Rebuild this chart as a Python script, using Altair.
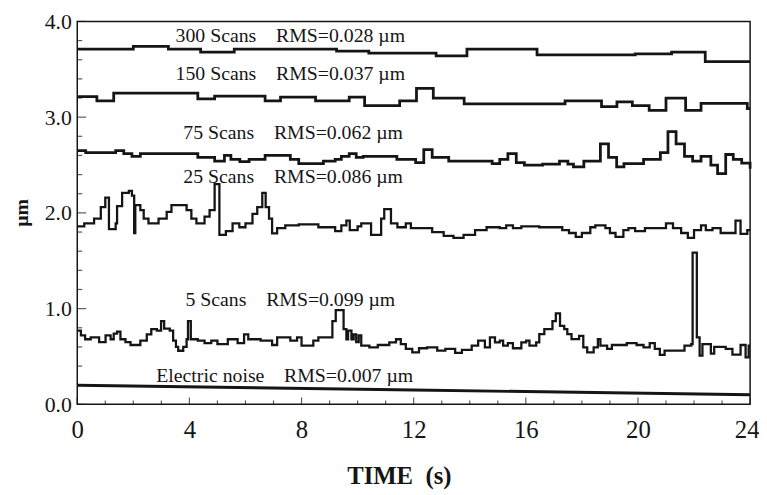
import altair as alt
import pandas as pd

INK = "#151515"
FONT = "Liberation Serif"
NB = "\u00a0"

# ---------------- data ----------------
t300 = [0, 2.0, 3.25, 4.4, 5.6, 9.25, 10.4, 12.8, 13.9, 16.4, 19.9, 21.2, 22.4, 24]
v300 = [3.71, 3.74, 3.71, 3.68, 3.71, 3.69, 3.67, 3.64, 3.71, 3.65, 3.66, 3.68, 3.58, 3.58]

t150 = [0, 0.7, 1.3, 4.3, 4.9, 6.7, 7.25, 8.5, 9.7, 10.25, 11.5, 12.1, 12.7, 13.8,
        17.4, 18.7, 19.25, 19.8, 20.4, 21.0, 21.7, 22.25, 23.9, 24]
v150 = [3.215, 3.17, 3.25, 3.19, 3.22, 3.17, 3.21, 3.17, 3.21, 3.12, 3.17, 3.30, 3.20, 3.14,
        3.17, 3.11, 3.16, 3.12, 3.07, 3.20, 3.07, 3.145, 3.09, 3.09]

t75 = [0, 0.3, 1.37, 1.66, 1.95, 2.25, 4.3, 4.9, 5.25, 5.48,
       5.8, 6.13, 6.7, 7.6, 7.9, 8.78, 9.2, 9.42, 9.7, 9.95,
       10.2, 11.4, 12.07, 12.36, 12.66, 13.25, 14.8, 15.07, 15.36, 15.66,
       15.95, 16.6, 17.2, 17.5, 17.7, 18.07, 18.66, 18.95, 19.24, 19.5,
       20.2, 20.8, 21.07, 21.36, 21.66, 21.95, 22.25, 22.6, 22.84, 23.13,
       23.4, 23.7, 24]
v75 = [2.65, 2.63, 2.65, 2.62, 2.59, 2.62, 2.58, 2.54, 2.60, 2.56,
       2.535, 2.56, 2.60, 2.56, 2.515, 2.54, 2.56, 2.59, 2.62, 2.58,
       2.59, 2.56, 2.525, 2.66, 2.58, 2.54, 2.515, 2.56, 2.62, 2.525,
       2.50, 2.51, 2.54, 2.51, 2.48, 2.54, 2.72, 2.58, 2.48, 2.515,
       2.56, 2.63, 2.85, 2.72, 2.59, 2.54, 2.59, 2.50, 2.41, 2.61,
       2.56, 2.52, 2.46]

t25 = [0, 0.25, 0.6, 0.84, 1.0, 1.13, 1.37, 1.42, 1.6, 1.84,
       1.95, 2.03, 2.07, 2.25, 2.37, 2.54, 2.9, 3.19, 3.36, 3.9,
       4.07, 4.25, 4.54, 4.72, 4.9, 5.07, 5.3, 5.54, 5.78, 6.0,
       6.25, 6.42, 6.6, 6.72, 6.84, 6.95, 7.13, 7.42, 7.9, 8.6,
       9.2, 9.42, 9.6, 9.72, 10.0, 10.13, 10.48, 10.84, 10.95, 11.19,
       11.42, 11.72, 11.9, 12.66, 13.07, 13.42, 13.78, 14.19, 14.6, 15.07,
       15.3, 15.54, 15.84, 16.48, 17.3, 17.54, 17.78, 18.0, 18.3, 18.48,
       18.84, 19.0, 19.2, 19.48, 19.66, 19.9, 20.25, 21.0, 21.25, 21.54,
       21.78, 22.0, 22.25, 22.42, 22.66, 22.95, 23.48, 23.66, 23.9, 24]
v25 = [1.86, 1.89, 1.94, 2.06, 2.16, 1.83, 1.89, 2.07, 2.21, 2.23,
       2.18, 1.79, 2.08, 2.03, 1.94, 1.89, 1.94, 2.01, 2.08, 2.03,
       1.94, 1.89, 1.96, 2.03, 2.30, 1.77, 1.81, 1.89, 1.85, 1.89,
       1.99, 2.06, 2.21, 2.06, 1.94, 1.785, 1.84, 1.87, 1.88, 1.85,
       1.81, 1.87, 1.92, 1.82, 1.86, 1.89, 1.77, 1.94, 2.04, 1.89,
       1.85, 1.89, 1.84, 1.80, 1.76, 1.74, 1.77, 1.82, 1.85, 1.84,
       1.87, 1.84, 1.86, 1.85, 1.82, 1.79, 1.75, 1.79, 1.85, 1.87,
       1.84, 1.79, 1.75, 1.82, 1.84, 1.81, 1.84, 1.89, 1.84, 1.79,
       1.74, 1.82, 1.87, 1.82, 1.84, 1.79, 1.92, 1.78, 1.82, 1.82]

t5 = [0, 0.13, 0.28, 0.48, 0.78, 1.01, 1.19, 1.3, 1.42, 1.54,
      1.72, 1.9, 2.25, 2.48, 2.64, 2.84, 2.99, 3.1, 3.3, 3.42,
      3.52, 3.6, 3.78, 3.9, 3.95, 4.05, 4.3, 4.54, 4.78, 5.0,
      5.37, 5.72, 5.95, 6.1, 6.54, 6.95, 7.13, 7.6, 7.84, 8.0,
      8.42, 8.6, 9.1, 9.22, 9.5, 9.6, 9.66, 9.78, 9.86, 9.95,
      10.04, 10.13, 10.42, 10.72, 11.13, 11.37, 11.54, 11.72, 11.95, 12.19,
      12.48, 12.84, 13.13, 13.48, 13.72, 14.07, 14.3, 14.54, 14.72, 14.9,
      15.07, 15.19, 15.36, 15.54, 15.84, 16.01, 16.13, 16.37, 16.48, 16.66,
      16.95, 17.07, 17.22, 17.37, 17.48, 17.63, 17.9, 18.05, 18.19, 18.42,
      18.57, 18.66, 18.9, 19.07, 19.6, 19.95, 20.2, 20.42, 20.6, 20.78,
      20.95, 21.66, 21.9, 21.95, 22.1, 22.2, 22.3, 22.6, 22.72, 23.13,
      23.37, 23.66, 23.84, 23.95, 24]
v5 = [0.77, 0.72, 0.68, 0.70, 0.65, 0.72, 0.68, 0.74, 0.76, 0.68,
      0.65, 0.62, 0.665, 0.73, 0.785, 0.77, 0.87, 0.79, 0.77, 0.665,
      0.60, 0.56, 0.60, 0.68, 0.87, 0.68, 0.665, 0.64, 0.665, 0.63,
      0.68, 0.64, 0.73, 0.68, 0.665, 0.62, 0.70, 0.665, 0.70, 0.613,
      0.665, 0.70, 0.87, 0.985, 0.785, 0.68, 0.77, 0.68, 0.73, 0.65,
      0.72, 0.613, 0.596, 0.62, 0.648, 0.68, 0.63, 0.579, 0.544, 0.586,
      0.596, 0.561, 0.579, 0.537, 0.57, 0.613, 0.665, 0.596, 0.70, 0.648,
      0.665, 0.613, 0.64, 0.586, 0.648, 0.665, 0.613, 0.648, 0.734, 0.786,
      0.87, 0.95, 0.82, 0.786, 0.734, 0.682, 0.716, 0.596, 0.544, 0.596,
      0.682, 0.613, 0.579, 0.62, 0.64, 0.62, 0.596, 0.64, 0.579, 0.517,
      0.561, 0.613, 0.63, 1.585, 0.70, 0.51, 0.63, 0.53, 0.60, 0.579,
      0.52, 0.62, 0.49, 0.613, 0.613]

t_noise = [0, 12, 24]
v_noise = [0.20, 0.15, 0.10]

label_text = [
    "300 Scans" + NB * 4 + "RMS=0.028 \u00b5m",
    "150 Scans" + NB * 4 + "RMS=0.037 \u00b5m",
    "75 Scans" + NB * 4 + "RMS=0.062 \u00b5m",
    "25 Scans" + NB * 4 + "RMS=0.086 \u00b5m",
    "5 Scans" + NB * 4 + "RMS=0.099 \u00b5m",
    "Electric noise" + NB * 4 + "RMS=0.007 \u00b5m",
]
label_t = [7.6, 7.6, 7.7, 7.7, 7.6, 7.4]
label_v = [3.78, 3.39, 2.77, 2.315, 1.023, 0.238]

x_label_values = [0, 4, 8, 12, 16, 20, 24]
x_minor_ticks = [v for v in range(1, 24) if v % 4]
y_label_values = [0, 1, 2, 3, 4]
y_minor_ticks = [round(0.2 * i, 1) for i in range(1, 20) if i % 5]

# ---------------- frames ----------------
def frame(name, t, v):
    return pd.DataFrame({"series": name, "t": t, "v": v})

thick_df = pd.concat([frame("300", t300, v300), frame("150", t150, v150), frame("75", t75, v75)])
thin_df = pd.concat([frame("25", t25, v25), frame("5", t5, v5)])
noise_df = frame("noise", t_noise, v_noise)
label_df = pd.DataFrame({"label": label_text, "t": label_t, "v": label_v})

W, H = 680, 387

x_enc = alt.X(
    "t:Q",
    scale=alt.Scale(domain=[0, 24], nice=False, zero=False),
    axis=alt.Axis(
        values=x_label_values, format="d", ticks=False, domain=False, grid=False,
        labelFontSize=25, labelPadding=14, labelFlush=False,
        labelAlign={"expr": "datum.value == 24 ? 'right' : 'center'"},
        labelOffset={"expr": "datum.value == 24 ? 9 : 0"},
        title="TIME" + NB * 2 + "(s)", titleFontSize=25, titleFontWeight="bold",
        titleX=325, titleY=80, titleAlign="center", titleBaseline="alphabetic",
    ),
)
y_enc = alt.Y(
    "v:Q",
    scale=alt.Scale(domain=[0, 4], nice=False),
    axis=alt.Axis(
        values=y_label_values, format=".1f", ticks=False, domain=False, grid=False,
        labelFontSize=22, labelPadding=6,
        title="\u00b5m", titleFontSize=20, titleFontWeight="bold", titleAngle=270,
        titleX=-56, titleY=193, titleAlign="center", titleBaseline="middle",
    ),
)

thick = alt.Chart(thick_df).mark_line(
    interpolate="step-after", color=INK, strokeWidth=2.8
).encode(x=x_enc, y=y_enc, detail="series:N")

thin = alt.Chart(thin_df).mark_line(
    interpolate="step-after", color=INK, strokeWidth=2.3
).encode(x=x_enc, y=y_enc, detail="series:N")

noise = alt.Chart(noise_df).mark_line(color=INK, strokeWidth=3.0).encode(x=x_enc, y=y_enc)

labels = alt.Chart(label_df).mark_text(
    font=FONT, fontSize=20, color=INK, align="center", baseline="alphabetic"
).encode(x=x_enc, y=y_enc, text="label:N")

xmaj = alt.Chart(pd.DataFrame({"t": x_label_values})).mark_tick(
    orient="vertical", size=7, thickness=1.2, color=INK
).encode(x=x_enc, y=alt.value(H - 3.5))
xmin = alt.Chart(pd.DataFrame({"t": x_minor_ticks})).mark_tick(
    orient="vertical", size=4, thickness=1.2, color=INK
).encode(x=x_enc, y=alt.value(H - 2))
ymaj = alt.Chart(pd.DataFrame({"v": y_label_values})).mark_tick(
    orient="horizontal", size=9, thickness=1.2, color=INK
).encode(y=y_enc, x=alt.value(4.5))
ymin = alt.Chart(pd.DataFrame({"v": y_minor_ticks})).mark_tick(
    orient="horizontal", size=5, thickness=1.2, color=INK
).encode(y=y_enc, x=alt.value(2.5))

chart = (
    alt.layer(xmaj, xmin, ymaj, ymin, noise, thick, thin, labels)
    .properties(
        width=W, height=H,
        autosize=alt.AutoSizeParams(type="none"),
        padding={"left": 70, "top": 11, "right": 9, "bottom": 86},
        background="white",
    )
    .configure_view(stroke=INK, strokeWidth=1.5)
    .configure_axis(labelFont=FONT, titleFont=FONT, labelColor=INK, titleColor=INK)
)

chart.save("out.html", embed_options={"renderer": "svg", "actions": False})
